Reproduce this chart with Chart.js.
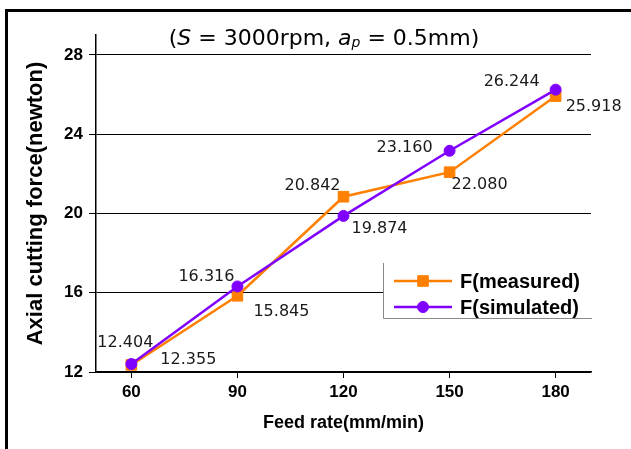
<!DOCTYPE html>
<html>
<head>
<meta charset="utf-8">
<script src="https://cdn.jsdelivr.net/npm/chart.js@4/dist/chart.umd.min.js"></script>
<style>
  html, body { margin: 0; padding: 0; background: #fff; }
  #wrap { width: 631px; height: 449px; }
</style>
</head>
<body>
<div id="wrap"><canvas id="c" width="631" height="449"></canvas></div>
<script>
// ---- data ----
const feedRates = [60, 90, 120, 150, 180];
const measuredForce = [12.355, 15.845, 20.842, 22.080, 25.918];
const simulatedForce = [12.404, 16.316, 19.874, 23.160, 26.244];
const yTickValues = [12, 16, 20, 24, 28];
const xTickValues = [60, 90, 120, 150, 180];
const seriesNames = ['F(measured)', 'F(simulated)'];
const yAxisTitle = 'Axial cutting force(newton)';
const xAxisTitle = 'Feed rate(mm/min)';

// ---- styles / positions (not data) ----
const ORANGE = '#ff8000';
const PURPLE = '#8000ff';
const FONT = '"DejaVu Sans", "Liberation Sans", Arial, sans-serif';
const BOLDFONT = '"Liberation Sans", Arial, Helvetica, sans-serif';
// pixel offsets of value labels from their points
const measuredLabelOffsets = [[57, -5], [44, 16], [-31, -11], [30, 13], [38, 11]];
const simulatedLabelOffsets = [[-6, -21], [-31, -10], [36, 13], [-45, -3], [-44, -8]];

const toPoints = (xs, ys) => xs.map((x, i) => ({ x: x, y: ys[i] }));

const framePlugin = {
  id: 'frame',
  beforeDraw(chart) {
    const ctx = chart.ctx;
    ctx.save();
    ctx.fillStyle = '#fff';
    ctx.fillRect(0, 0, chart.width, chart.height);
    ctx.fillStyle = '#000';
    ctx.fillRect(5, 9, chart.width - 5, 3);
    ctx.fillRect(5, 9, 3, chart.height - 9);
    ctx.restore();
  }
};

const titlePlugin = {
  id: 'mixedTitle',
  afterDraw(chart) {
    const ctx = chart.ctx;
    const size = 22;
    const segs = [
      { t: '(', f: `${size}px ${FONT}` },
      { t: 'S', f: `italic ${size}px ${FONT}` },
      { t: ' = 3000rpm, ', f: `${size}px ${FONT}` },
      { t: 'a', f: `italic ${size}px ${FONT}` },
      { t: 'p', f: `italic ${Math.round(size * 0.62)}px ${FONT}`, dy: 2 },
      { t: ' = 0.5mm)', f: `${size}px ${FONT}` }
    ];
    ctx.save();
    let total = 0;
    segs.forEach(s => { ctx.font = s.f; s.w = ctx.measureText(s.t).width; total += s.w; });
    let x = 324 - total / 2;
    const y = 45;
    ctx.fillStyle = '#000';
    ctx.textBaseline = 'alphabetic';
    ctx.textAlign = 'left';
    segs.forEach(s => { ctx.font = s.f; ctx.fillText(s.t, x, y + (s.dy || 0)); x += s.w; });
    ctx.restore();
  }
};

const valueLabelPlugin = {
  id: 'valueLabels',
  afterDatasetsDraw(chart) {
    const ctx = chart.ctx;
    ctx.save();
    ctx.font = `16px ${FONT}`;
    ctx.fillStyle = '#1a1a1a';
    ctx.textAlign = 'center';
    ctx.textBaseline = 'middle';
    const offsetsList = [measuredLabelOffsets, simulatedLabelOffsets];
    chart.data.datasets.forEach((ds, di) => {
      const meta = chart.getDatasetMeta(di);
      meta.data.forEach((pt, i) => {
        const off = offsetsList[di][i];
        ctx.fillText(ds.data[i].y.toFixed(3), pt.x + off[0], pt.y + off[1]);
      });
    });
    ctx.restore();
  }
};

const legendPlugin = {
  id: 'boxLegend',
  afterDraw(chart) {
    const ctx = chart.ctx;
    const L = 383, T = 263, R = 592, B = 318;
    ctx.save();
    ctx.fillStyle = '#fff';
    ctx.fillRect(L, T, R - L, B - T);
    ctx.strokeStyle = '#8a8a8a';
    ctx.lineWidth = 1;
    ctx.beginPath();
    ctx.moveTo(L + 0.5, T);
    ctx.lineTo(L + 0.5, B + 0.5);
    ctx.lineTo(R, B + 0.5);
    ctx.stroke();
    const rows = [281, 307];
    chart.data.datasets.forEach((ds, i) => {
      const y = rows[i];
      ctx.strokeStyle = ds.borderColor;
      ctx.lineWidth = ds.borderWidth;
      ctx.beginPath();
      ctx.moveTo(394, y);
      ctx.lineTo(452, y);
      ctx.stroke();
      ctx.fillStyle = ds.pointBackgroundColor;
      ctx.strokeStyle = ds.pointBorderColor;
      ctx.lineWidth = 1;
      ctx.beginPath();
      if (ds.pointStyle === 'rect') {
        const s = Math.SQRT1_2 * ds.pointRadius;
        ctx.rect(423 - s, y - s, 2 * s, 2 * s);
      } else {
        ctx.arc(423, y, ds.pointRadius, 0, Math.PI * 2);
      }
      ctx.fill();
      ctx.stroke();
      ctx.fillStyle = '#000';
      ctx.font = `bold 20px ${BOLDFONT}`;
      ctx.textAlign = 'left';
      ctx.textBaseline = 'middle';
      ctx.fillText(ds.label, 460, y + 1);
    });
    ctx.restore();
  }
};

new Chart(document.getElementById('c'), {
  type: 'line',
  data: {
    datasets: [
      {
        label: seriesNames[0],
        data: toPoints(feedRates, measuredForce),
        borderColor: ORANGE,
        backgroundColor: ORANGE,
        pointBackgroundColor: ORANGE,
        pointBorderColor: ORANGE,
        borderWidth: 2.5,
        pointStyle: 'rect',
        pointRadius: 7.5,
        pointBorderWidth: 1,
        tension: 0,
        order: 1
      },
      {
        label: seriesNames[1],
        data: toPoints(feedRates, simulatedForce),
        borderColor: PURPLE,
        backgroundColor: PURPLE,
        pointBackgroundColor: PURPLE,
        pointBorderColor: PURPLE,
        borderWidth: 2.5,
        pointStyle: 'circle',
        pointRadius: 5.5,
        pointBorderWidth: 1,
        tension: 0,
        order: 0
      }
    ]
  },
  options: {
    responsive: false,
    animation: false,
    devicePixelRatio: 1,
    layout: { padding: { top: 35, right: 40, left: 0, bottom: 0 } },
    plugins: {
      legend: { display: false },
      title: { display: false },
      tooltip: { enabled: false }
    },
    scales: {
      x: {
        type: 'linear',
        min: 50,
        max: 190,
        afterBuildTicks: s => { s.ticks = xTickValues.map(v => ({ value: v })); },
        afterFit: s => { s.height = 77; },
        border: { display: true, color: '#000', width: 1.5 },
        grid: { display: true, drawOnChartArea: false, drawTicks: true, tickLength: 6, color: '#000', lineWidth: 1 },
        ticks: { color: '#000', font: { family: BOLDFONT, size: 17, weight: 'bold' }, padding: 4, maxRotation: 0 },
        title: {
          display: true, text: xAxisTitle, color: '#000',
          font: { family: BOLDFONT, size: 18, weight: 'bold' }, padding: { top: 0, bottom: 15 }
        }
      },
      y: {
        type: 'linear',
        min: 12,
        max: 29,
        afterBuildTicks: s => { s.ticks = yTickValues.map(v => ({ value: v })); },
        afterFit: s => { s.width = 96; },
        border: { display: true, color: '#000', width: 1.5 },
        grid: { display: true, drawOnChartArea: true, drawTicks: true, tickLength: 7, color: '#000', lineWidth: 1 },
        ticks: { color: '#000', font: { family: BOLDFONT, size: 17, weight: 'bold' }, padding: 6 },
        title: {
          display: true, text: yAxisTitle, color: '#000',
          font: { family: BOLDFONT, size: 22, weight: 'bold' }, padding: { top: 23, bottom: 0 }
        }
      }
    }
  },
  plugins: [framePlugin, titlePlugin, valueLabelPlugin, legendPlugin]
});
</script>
</body>
</html>
